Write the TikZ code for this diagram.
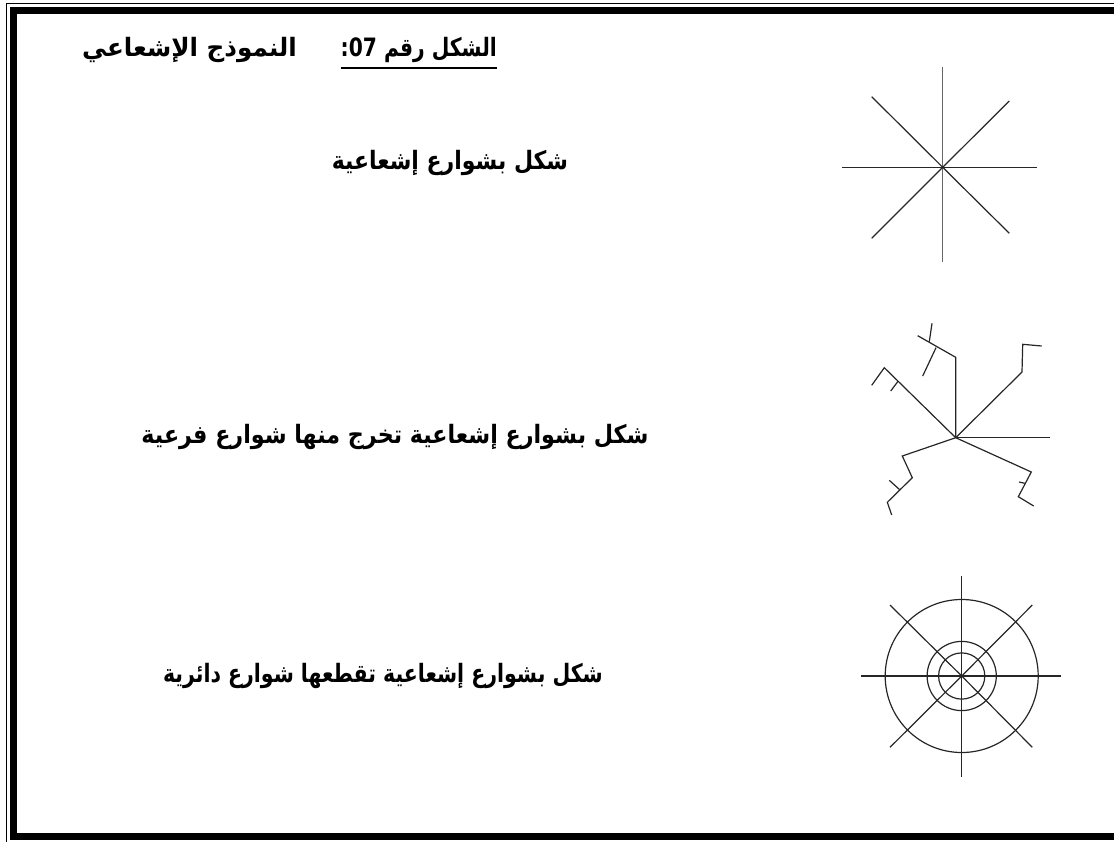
\documentclass[tikz,border=0pt]{standalone}
\usepackage{fontspec}
\newfontfamily\arabicfont[Script=Arabic]{DejaVu Sans}
\TeXXeTstate=1
\tikzset{
  road/.style={line width=1.2pt, black!85},
  txt/.style={font=\arabicfont\bfseries\fontsize{22}{26}\selectfont, inner sep=0pt},
}
\begin{document}
\begin{tikzpicture}[x=1pt,y=-1pt]
\useasboundingbox (0,0) rectangle (1114,841);
\clip (0,0) rectangle (1114,841);
% page border
\draw[line width=1.4pt] (6.5,3.5) rectangle (1130,845);
\draw[line width=7pt] (13.5,10.5) rectangle (1130,836.5);
% title
\node[txt, anchor=east] (t1) at (497,50) {\scalebox{0.92}[1.15]{\beginR الشكل رقم \beginL 07\endL:\endR}};
\draw[line width=1.5pt] (t1.west |- 0,68) -- (t1.east |- 0,68);
\node[txt, anchor=east] (t2) at (297,50) {\scalebox{1.12}[1.15]{\beginR النموذج الإشعاعي\endR}};
% row labels
\node[txt] (l1) at (450,163) {\scalebox{1}[1.15]{\beginR شكل بشوارع إشعاعية\endR}};
\node[txt] (l2) at (395,437) {\scalebox{1.01}[1.15]{\beginR شكل بشوارع إشعاعية تخرج منها شوارع فرعية\endR}};
\node[txt] (l3) at (383,676) {\scalebox{0.93}[1.15]{\beginR شكل بشوارع إشعاعية تقطعها شوارع دائرية\endR}};
% shape 1: radial streets
\coordinate (c1) at (942.7,167.3);
\draw[road, black!60] (942.7,66.7) -- (942.7,261.7);
\draw[road] (842.3,167.3) -- (1037,167.3);
\draw[road] (871.7,96.7) -- (c1) -- (1009.3,233.3);
\draw[road] (871.7,238.3) -- (c1) -- (1009.3,101);
% shape 2: radial streets with branches
\coordinate (c2) at (955.7,437.7);
\draw[road] (c2) -- (955.7,357.3) -- (917.7,335.7);
\draw[road] (929.3,341.7) -- (932,323.3);
\draw[road] (936,347.7) -- (922.7,376);
\draw[road] (c2) -- (1022,372) -- (1022.7,344.3) -- (1041.7,346);
\draw[road] (c2) -- (1050,437.7);
\draw[road] (c2) -- (1031.3,472) -- (1018.3,496.7) -- (1033.7,506);
\draw[road] (1024.7,483.3) -- (1019,482);
\draw[road] (c2) -- (902.3,456) -- (912.3,477.7) -- (887.3,502.3) -- (891.7,515);
\draw[road] (900,490) -- (889.3,480.3);
\draw[road] (c2) -- (884.3,367.7) -- (871.7,385.3);
\draw[road] (898,381.3) -- (890.7,391);
% shape 3: radial + ring streets
\coordinate (c3) at (961.7,676);
\draw[road] (961.7,576) -- (961.7,776.7);
\draw[road] (861,676) -- (1061.3,676);
\draw[road] (890,605) -- (c3) -- (1032.3,747.3);
\draw[road] (890,747.3) -- (c3) -- (1032.3,605);
\draw[road] (c3) circle[radius=76.5];
\draw[road] (c3) circle[radius=34.6];
\draw[road] (c3) circle[radius=23.1];
\end{tikzpicture}
\end{document}
